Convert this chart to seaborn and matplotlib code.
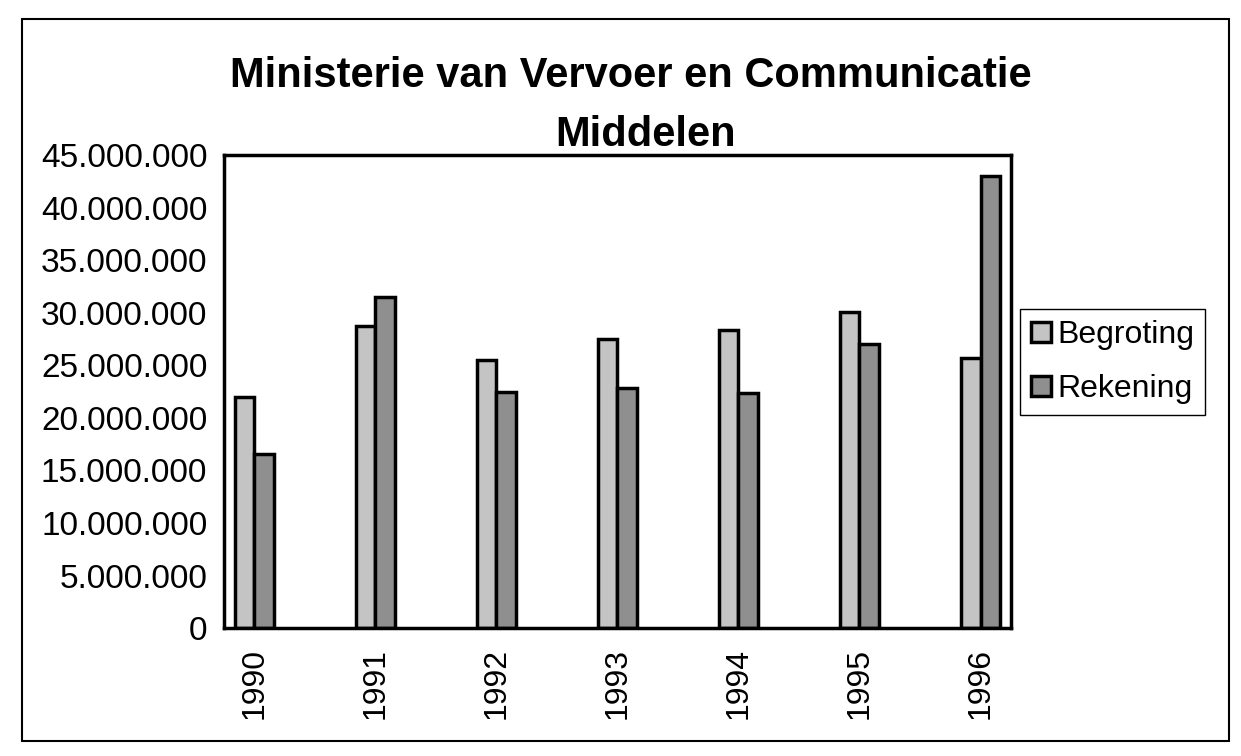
import numpy as np
import pandas as pd
import seaborn as sns
import matplotlib.pyplot as plt
from matplotlib.patches import Rectangle
from matplotlib.ticker import FuncFormatter

# values (guilders)
years = ["1990", "1991", "1992", "1993", "1994", "1995", "1996"]
begroting = [22000000, 28700000, 25500000, 27500000, 28400000, 30100000, 25700000]
rekening = [16600000, 31500000, 22500000, 22800000, 22400000, 27000000, 43000000]
series = ["Begroting", "Rekening"]
colors = ["#c4c4c4", "#8f8f8f"]

df = pd.DataFrame({
    "jaar": years * 2,
    "serie": [series[0]] * len(years) + [series[1]] * len(years),
    "bedrag": begroting + rekening,
})

# the original leaves an empty category between each pair of years
order = []
for i, y in enumerate(years):
    order.append(y)
    if i < len(years) - 1:
        order.append(" " * (i + 1))

sns.set_style("white")
plt.rcParams["font.family"] = ["Liberation Sans", "DejaVu Sans"]
plt.rcParams["text.color"] = "black"
plt.rcParams["xtick.color"] = "black"
plt.rcParams["ytick.color"] = "black"

fig = plt.figure(figsize=(12.41, 7.56), dpi=100)
ax = fig.add_axes([0.1805, 0.169, 0.634, 0.626])

sns.barplot(data=df, x="jaar", y="bedrag", hue="serie", order=order,
            hue_order=series, palette=colors, width=0.65, ax=ax,
            edgecolor="black", linewidth=2.5, saturation=1, errorbar=None)

ax.set_ylim(0, 45000000)
ax.set_xlim(-0.5, len(order) - 0.5)
ax.set_yticks(np.arange(0, 45000001, 5000000))
ax.yaxis.set_major_formatter(FuncFormatter(lambda v, p: f"{int(v):,}".replace(",", ".")))

# tick marks at slot edges, year labels centred on the bar groups
ax.set_xticks(np.arange(-0.5, len(order), 1))
ax.set_xticklabels([])
ax.set_xticks(np.arange(0, len(order), 2), minor=True)
ax.set_xticklabels(years, minor=True, rotation=90, fontsize=23)
ax.tick_params(axis="x", which="major", direction="inout", length=14, width=2)
ax.tick_params(axis="x", which="minor", length=0, pad=14)
ax.tick_params(axis="y", direction="inout", length=14, width=2, labelsize=24, pad=5)

for s in ax.spines.values():
    s.set_visible(True)
    s.set_color("black")
    s.set_linewidth(2.5)

ax.set_xlabel("")
ax.set_ylabel("")

ax.legend(loc="upper left", bbox_to_anchor=(1.012, 0.675), fontsize=23,
          frameon=True, fancybox=False, edgecolor="black", framealpha=1,
          handlelength=0.6, handleheight=0.6, handletextpad=0.2,
          borderpad=0.35, labelspacing=0.75, borderaxespad=0)

fig.text(0.508, 0.9, "Ministerie van Vervoer en Communicatie", ha="center",
         va="center", fontsize=30, fontweight="bold")
fig.text(0.52, 0.822, "Middelen", ha="center", va="center", fontsize=30,
         fontweight="bold")

fig.patches.append(Rectangle((0.018, 0.02), 0.972, 0.955, transform=fig.transFigure,
                             fill=False, edgecolor="black", linewidth=1.5))

fig.savefig("out.png", dpi=100)
